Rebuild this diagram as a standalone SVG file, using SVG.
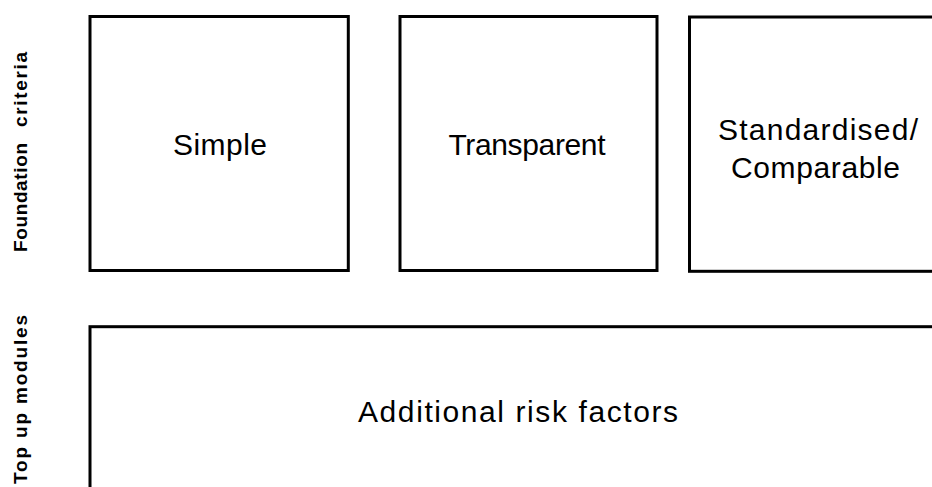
<svg xmlns="http://www.w3.org/2000/svg" width="932" height="487" viewBox="0 0 932 487">
<style>
.box{fill:#fff;stroke:#000;stroke-width:3}
.lbl{font-family:"Liberation Sans",Arial,sans-serif;font-size:30px;fill:#000;text-anchor:middle}
.side{font-family:"Liberation Sans",Arial,sans-serif;font-size:19px;font-weight:bold;fill:#000}
</style>
<rect width="932" height="487" fill="#fff"/>
<g id="row-labels">
<text class="side" transform="translate(26.5,252) rotate(-90)" textLength="109" lengthAdjust="spacing">Foundation</text>
<text class="side" transform="translate(26.5,127) rotate(-90)" textLength="75" lengthAdjust="spacing">criteria</text>
<text class="side" transform="translate(27,484) rotate(-90)" textLength="169" lengthAdjust="spacing">Top up modules</text>
</g>
<g id="simple">
<rect class="box" x="90" y="16.5" width="258.3" height="254"/>
<text class="lbl" x="220" y="154.5" textLength="94" lengthAdjust="spacing">Simple</text>
</g>
<g id="transparent">
<rect class="box" x="400" y="16.5" width="257" height="254"/>
<text class="lbl" x="527" y="154.5" textLength="157" lengthAdjust="spacing">Transparent</text>
</g>
<g id="standardised">
<rect class="box" x="689.5" y="17" width="260" height="254.3"/>
<text class="lbl" x="818" y="140" textLength="200" lengthAdjust="spacing">Standardised/</text>
<text class="lbl" x="815.5" y="177.5" textLength="169" lengthAdjust="spacing">Comparable</text>
</g>
<g id="additional">
<rect class="box" x="90" y="326.7" width="860" height="180"/>
<text class="lbl" x="518" y="421.5" textLength="320" lengthAdjust="spacing">Additional risk factors</text>
</g>
<g id="connectors"/>
</svg>
